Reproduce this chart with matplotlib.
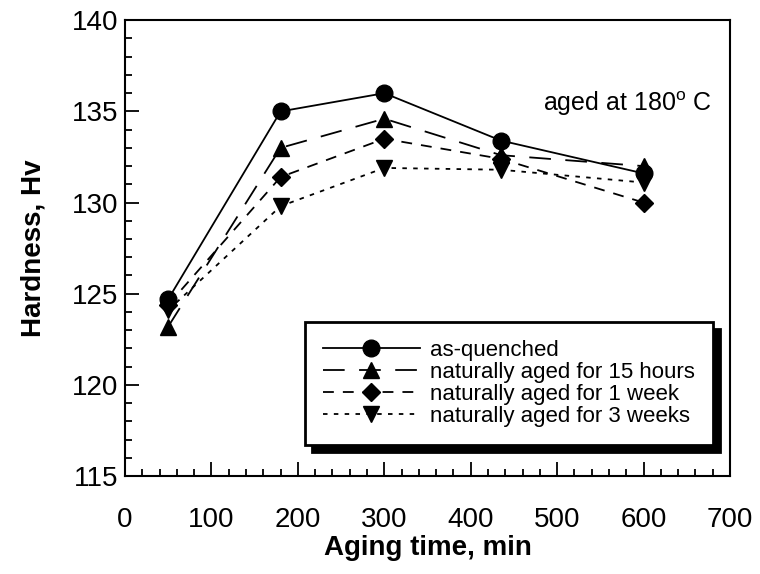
import numpy as np
import matplotlib
matplotlib.use("Agg")
import matplotlib.pyplot as plt
from matplotlib.ticker import MultipleLocator

plt.rcParams['font.family'] = ['Liberation Sans', 'DejaVu Sans']
plt.rcParams['mathtext.default'] = 'regular'

# aging times (min) and hardness (Hv)
tiempo = [50, 180, 300, 435, 600]
as_quenched = [124.7, 135.0, 136.0, 133.4, 131.6]
aged_15h = [123.2, 133.0, 134.6, 132.6, 132.0]
aged_1w = [124.4, 131.4, 133.5, 132.4, 130.0]
aged_3w = [124.1, 129.8, 131.9, 131.8, 131.1]

etiquetas = ['as-quenched', 'naturally aged for 15 hours',
             'naturally aged for 1 week', 'naturally aged for 3 weeks']

fig = plt.figure(figsize=(7.6, 5.74), dpi=100)
ax = fig.add_axes([0.1645, 0.1707, 0.796, 0.794])

ax.plot(tiempo, as_quenched, color='black', lw=1.3, ls='-',
        marker='o', ms=12, label=etiquetas[0])
ax.plot(tiempo, aged_15h, color='black', lw=1.3, ls=(0, (12, 8)),
        marker='^', ms=12, label=etiquetas[1])
ax.plot(tiempo, aged_1w, color='black', lw=1.3, ls=(0, (6, 5)),
        marker='D', ms=9, label=etiquetas[2])
ax.plot(tiempo, aged_3w, color='black', lw=1.3, ls=(0, (2.5, 3.5)),
        marker='v', ms=12, label=etiquetas[3])

ax.set_xlim(0, 700)
ax.set_ylim(115, 140)
ax.xaxis.set_major_locator(MultipleLocator(100))
ax.xaxis.set_minor_locator(MultipleLocator(20))
ax.yaxis.set_major_locator(MultipleLocator(5))
ax.yaxis.set_minor_locator(MultipleLocator(1))
ax.tick_params(which='both', direction='in', top=False, right=False,
               width=1.3, labelsize=20)
ax.tick_params(which='major', length=10)
ax.tick_params(which='minor', length=5)
ax.tick_params(axis='x', which='major', pad=22)
ax.tick_params(axis='y', which='major', pad=5)
for s in ax.spines.values():
    s.set_linewidth(1.5)

ax.set_xlabel('Aging time, min', fontsize=20, fontweight='bold', labelpad=2)
ax.set_ylabel('Hardness, Hv', fontsize=20, fontweight='bold', labelpad=18)

ax.text(0.97, 0.818, 'aged at 180$^{o}$ C', transform=ax.transAxes,
        ha='right', va='center', fontsize=18)

leg = ax.legend(loc='lower right', bbox_to_anchor=(0.972, 0.068),
                fontsize=16, handlelength=4.4, handletextpad=0.45,
                labelspacing=0.05, borderpad=0.8, borderaxespad=0,
                fancybox=False, framealpha=1, edgecolor='black',
                shadow={'ox': 5, 'oy': -5, 'color': 'black', 'alpha': 1})
leg.get_frame().set_linewidth(2)

fig.savefig('out.png', dpi=100)
